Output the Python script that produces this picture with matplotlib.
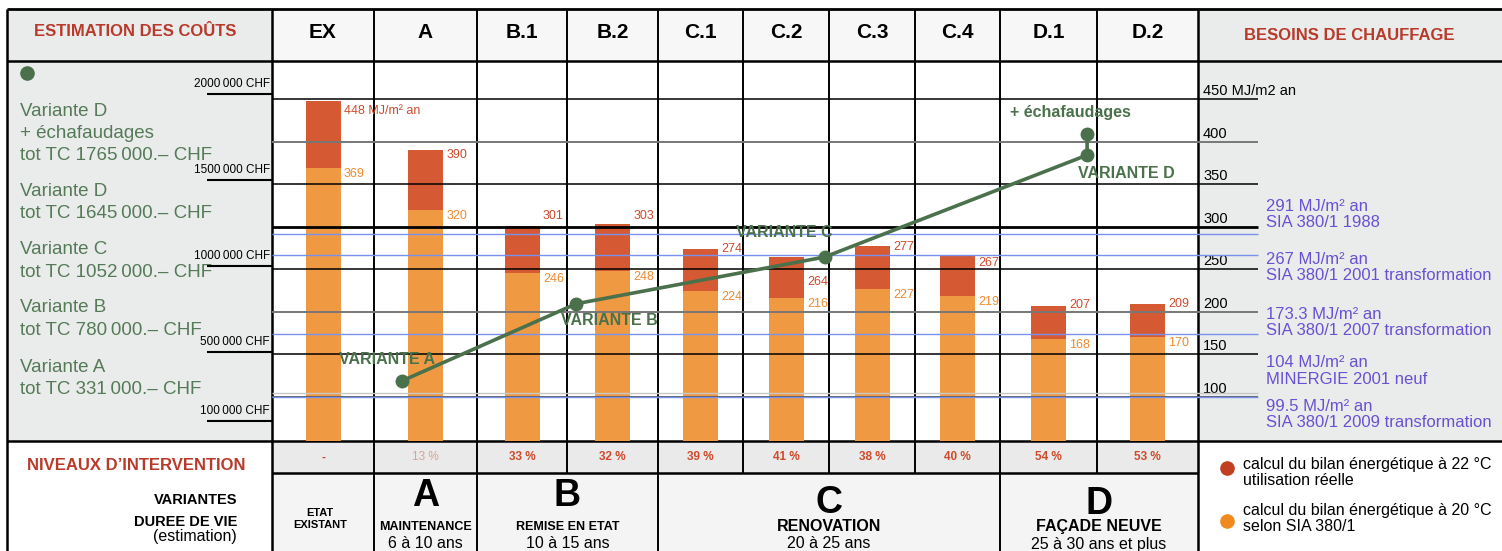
import numpy as np
import matplotlib
matplotlib.use("Agg")
import matplotlib.pyplot as plt
from matplotlib.patches import Rectangle

plt.rcParams['font.family'] = ['Liberation Sans', 'DejaVu Sans']

# --- donnees ---
colonnes = ["EX", "A", "B.1", "B.2", "C.1", "C.2", "C.3", "C.4", "D.1", "D.2"]
besoin_20 = [369, 320, 246, 248, 224, 216, 227, 219, 168, 170]   # SIA 380/1 a 20 °C
besoin_22 = [448, 390, 301, 303, 274, 264, 277, 267, 207, 209]   # utilisation reelle a 22 °C
interventions = ["-", "13 %", "33 %", "32 %", "39 %", "41 %", "38 %", "40 %", "54 %", "53 %"]

variantes = ["VARIANTE A", "VARIANTE B", "VARIANTE C", "VARIANTE D", "+ échafaudages"]
noms_variantes = ["Variante A", "Variante B", "Variante C", "Variante D", "Variante D\n+ échafaudages"]
cout_total = [331000, 780000, 1052000, 1645000, 1765000]

ticks_chf = [2000000, 1500000, 1000000, 500000, 100000]
ticks_mj = [450, 400, 350, 300, 250, 200, 150, 100]

normes_val = [291, 267, 173.3, 104, 99.5]
normes_nom = ["SIA 380/1 1988", "SIA 380/1 2001 transformation",
              "SIA 380/1 2007 transformation", "MINERGIE 2001 neuf",
              "SIA 380/1 2009 transformation"]

groupes = ["ETAT\nEXISTANT", "A", "B", "C", "D"]
groupes_nom = ["", "MAINTENANCE", "REMISE EN ETAT", "RENOVATION", "FAÇADE NEUVE"]
groupes_duree = ["", "6 à 10 ans", "10 à 15 ans", "20 à 25 ans", "25 à 30 ans et plus"]

legende = ["calcul du bilan énergétique à 22 °C\nutilisation réelle",
           "calcul du bilan énergétique à 20 °C\nselon SIA 380/1"]

# --- couleurs / mise en page ---
ROUGE = "#D55A33"
ORANGE = "#EF9A42"
VERT = "#4B714C"
VERT_TXT = "#557A57"
ROUGE_TITRE = "#B83A2B"
BLEU = "#6A50D2"
BLEU_L = "#7890EE"
GRIS = "#EAECEB"

W, H = 1502, 551
bords = [272, 374, 477, 567, 658, 743, 829, 915, 1000, 1097, 1198]
centres = [(a + b) / 2 for a, b in zip(bords[:-1], bords[1:])]
bords_groupes = [272, 374, 477, 658, 1000, 1198]
haut, y_ent, y_bas, y_pct, y_fin = 9, 61, 441, 473, 551
gauche, droite = 7, 1502


def fmt(v):
    # petit espace avant les trois derniers chiffres, comme sur l'original
    return f"{v // 1000}\u2009{v % 1000:03d}"


fig = plt.figure(figsize=(W / 100, H / 100), dpi=100)

lay = fig.add_axes([0, 0, 1, 1])
lay.set_xlim(0, W)
lay.set_ylim(H, 0)
lay.axis("off")


def rect(x0, y0, x1, y1, c):
    lay.add_patch(Rectangle((x0, y0), x1 - x0, y1 - y0, facecolor=c,
                            edgecolor="none", zorder=0))


def hl(y, x0, x1, lw=1.5, c="black"):
    lay.plot([x0, x1], [y, y], color=c, lw=lw, zorder=3, solid_capstyle="butt")


def vl(x, y0, y1, lw=1.5, c="black"):
    lay.plot([x, x], [y0, y1], color=c, lw=lw, zorder=3, solid_capstyle="butt")


# fonds
rect(gauche, haut, 272, y_bas, GRIS)
rect(1198, haut, droite, y_bas, GRIS)
rect(272, haut, 1198, y_ent, "#F7F7F7")
rect(272, y_bas, 1198, y_pct, "#E9EAE9")
rect(272, y_pct, 1198, y_fin, "#F4F4F4")

# traits du tableau
hl(haut, gauche, droite, 2)
hl(y_ent, gauche, droite, 1.8)
hl(y_bas, gauche, droite, 1.8)
hl(y_pct, 272, 1198, 1.8)
vl(gauche, haut, y_fin, 1.8)
vl(272, haut, y_fin, 1.8)
vl(1198, haut, y_fin, 1.8)
for x in bords[1:-1]:
    vl(x, haut, y_pct, 1.4)
for x in bords_groupes[1:-1]:
    vl(x, y_pct, y_fin, 1.4)

# en-tetes
lay.text(135, 32, "ESTIMATION DES COÛTS", ha="center", va="center",
         fontsize=12, fontweight="bold", color=ROUGE_TITRE)
lay.text(1349, 35, "BESOINS DE CHAUFFAGE", ha="center", va="center",
         fontsize=12, fontweight="bold", color=ROUGE_TITRE)
for xc, nom in zip(centres, colonnes):
    lay.text(xc, 33, nom, ha="center", va="center", fontsize=15, fontweight="bold")

# panneau gauche : couts des variantes (une ligne par texte)
lay.plot(27, 73, "o", color=VERT, ms=9.5, zorder=4)
y_premiere = [367, 308, 250, 191, 111]
for nom, cout, y0 in zip(noms_variantes, cout_total, y_premiere):
    lignes = nom.split("\n") + [f"tot TC {fmt(cout)}.– CHF"]
    for k, ligne in enumerate(lignes):
        lay.text(20, y0 + 22.5 * k, ligne, ha="left", va="center",
                 fontsize=13.5, color=VERT_TXT)

# panneau droit : normes
y_normes = [214.5, 267.5, 322.5, 371, 414.5]
for v, nom, yb in zip(normes_val, normes_nom, y_normes):
    lay.text(1266, yb, f"{v:g} MJ/m² an\n{nom}", ha="left", va="center",
             fontsize=12, color=BLEU, linespacing=1.12)

# ligne pourcentages
for i, (xc, t) in enumerate(zip(centres, interventions)):
    lay.text(xc, 457.5, t, ha="center", va="center", fontsize=8.5,
             fontweight="normal" if i == 1 else "bold",
             color="#D9A295" if i == 1 else "#CF4A2A")

lay.text(27, 466, "NIVEAUX D’INTERVENTION", ha="left", va="center",
         fontsize=12, fontweight="bold", color=ROUGE_TITRE)
lay.text(237, 500, "VARIANTES", ha="right", va="center", fontsize=10.5, fontweight="bold")
lay.text(237, 522, "DUREE DE VIE", ha="right", va="center", fontsize=10.5, fontweight="bold")
lay.text(237, 537, "(estimation)", ha="right", va="center", fontsize=11.5)

# niveaux d'intervention
gx = [(a + b) / 2 for a, b in zip(bords_groupes[:-1], bords_groupes[1:])]
y_lettres = [None, 496, 496, 503, 504]
for i, (xc, g, nom, duree) in enumerate(zip(gx, groupes, groupes_nom, groupes_duree)):
    if i == 0:
        lay.text(xc - 3, 519, g, ha="center", va="center", fontsize=8,
                 fontweight="bold", linespacing=1.25)
        continue
    lay.text(xc, y_lettres[i], g, ha="center", va="center", fontsize=27, fontweight="bold")
    lay.text(xc, 526.5, nom, ha="center", va="center",
             fontsize=9 if i < 3 else 11.5, fontweight="bold")
    lay.text(xc, 544, duree, ha="center", va="center", fontsize=11.5)

# legende
for yd, yt, c, t in [(468, 472.5, "#C0401F", legende[0]), (521, 518.5, "#F08A1E", legende[1])]:
    lay.plot(1227, yd, "o", color=c, ms=9.5, zorder=4)
    lay.text(1243, yt, t, ha="left", va="center", fontsize=11.5, linespacing=1.05)

# --- graphique ---
ax = fig.add_axes([272 / W, 1 - y_bas / H, (1198 - 272) / W, (y_bas - y_ent) / H])
ax.set_xlim(272, 1198)
ax.set_ylim(47.9, 495.2)
ax.axis("off")

ax.bar(centres, besoin_22, width=35, color=ROUGE, zorder=2)
ax.bar(centres, besoin_20, width=35, color=ORANGE, zorder=3)

# etiquettes des barres
decal_rouge = [9.5, 5, -10, -8, 0, 25, 1, 8.5, -1, 0]
for i, (xc, v20, v22) in enumerate(zip(centres, besoin_20, besoin_22)):
    t22 = f"{v22} MJ/m² an" if i == 0 else str(v22)
    ax.annotate(t22, (xc + 21, v22), xytext=(0, -decal_rouge[i]),
                textcoords="offset pixels", ha="left", va="center",
                fontsize=9, color="#CC4A2C", zorder=6)
    ax.annotate(str(v20), (xc + 21, v20), xytext=(0, -6),
                textcoords="offset pixels", ha="left", va="center",
                fontsize=9, color="#EE8A2D", zorder=6)

# grille MJ et echelle droite
style_grille = ["black", "#777777", "black", "black", "black", "#777777", "black", "#555555"]
lw_grille = [1.1, 1.4, 1.1, 2.0, 1.1, 1.4, 1.1, 1.3]
for v, c, lw in zip(ticks_mj, style_grille, lw_grille):
    ax.hlines(v, 272, 1258, colors=c, lw=lw, zorder=4, clip_on=False)
    lab = f"{v} MJ/m2 an" if v == ticks_mj[0] else str(v)
    ax.annotate(lab, (1203, v), xytext=(0, 4), textcoords="offset pixels",
                ha="left", va="baseline", fontsize=10.5, annotation_clip=False)

for v in normes_val:
    c = "#C8C8C8" if v == 104 else BLEU_L
    ax.hlines(v, 272, 1258, colors=c, lw=1.0, zorder=4.5, clip_on=False)

# echelle des couts
ax2 = ax.twinx()
ax2.set_ylim(-18700, 2192500)
ax2.axis("off")
for c in ticks_chf:
    ax2.hlines(c, 207, 272, colors="black", lw=1.5, clip_on=False)
    ax2.annotate(f"{fmt(c)} CHF", (270, c), xytext=(0, 7), textcoords="offset pixels",
                 ha="right", va="baseline", fontsize=8.5, annotation_clip=False)

# courbe des couts des variantes
pos_variantes = [0.77, 2.6, 5.45, 8.39, 8.39]
xv = np.interp(pos_variantes, np.arange(len(centres)), centres)
ax2.plot(xv, cout_total, "-o", color=VERT, lw=2.6, ms=9, zorder=7)
decal_var = [(-15, 21), (33, -17), (-40, 24), (39, -18), (-17, 22)]
for x, c, nom, (dx, dy) in zip(xv, cout_total, variantes, decal_var):
    ax2.annotate(nom, (x, c), xytext=(dx, dy), textcoords="offset pixels",
                 ha="center", va="center", fontsize=11.5, fontweight="bold",
                 color=VERT, zorder=8)

fig.savefig("out.png", dpi=100)
